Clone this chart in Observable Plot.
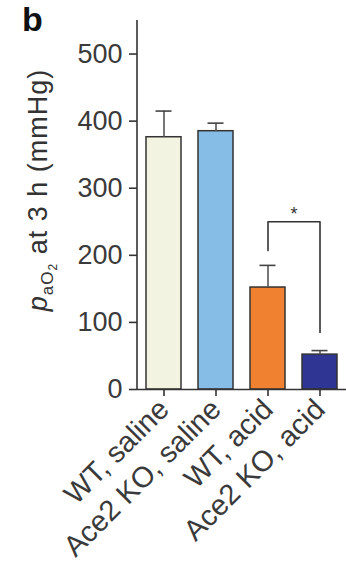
<!DOCTYPE html>
<html>
<head>
<meta charset="utf-8">
<script src="https://cdn.jsdelivr.net/npm/d3@7"></script>
<script src="https://cdn.jsdelivr.net/npm/@observablehq/plot@0.6"></script>
<style>
  html, body { margin: 0; padding: 0; background: #fff; }
  #chart { position: relative; width: 346px; height: 565px; }
  svg text { font-family: "Liberation Sans", Arial, sans-serif; }
</style>
</head>
<body>
<div id="chart"></div>
<script>
const categories = ["WT, saline", "Ace2 KO, saline", "WT, acid", "Ace2 KO, acid"];
const means = [376, 385, 152, 52];
const errors = [39, 12, 33, 6];
const colors = ["#F3F3E1", "#86BDE6", "#EF8131", "#2E3592"];
const yTicks = [0, 100, 200, 300, 400, 500];
const bracket = [
  {x: "WT, acid", y: 207},
  {x: "WT, acid", y: 250},
  {x: "Ace2 KO, acid", y: 250},
  {x: "Ace2 KO, acid", y: 85}
];
const starLabel = "*";
const panelLabel = "b";

const data = categories.map((c, i) => ({cat: c, mean: means[i], err: means[i] + errors[i], color: colors[i]}));

const plot = Plot.plot({
  width: 346,
  height: 565,
  marginLeft: 137,
  marginRight: 0,
  marginTop: 20,
  marginBottom: 176,
  style: {fontFamily: "'Liberation Sans', Arial, sans-serif", color: "#333", background: "#fff"},
  x: {domain: categories, paddingInner: 0.33, paddingOuter: 0.165, label: null, tickSize: 7, tickRotate: -45, tickPadding: 4},
  y: {domain: [0, 550], label: null, axis: null},
  marks: [
    Plot.barY(data, {x: "cat", y: "mean", fill: "color", stroke: "#333", strokeWidth: 1.5}),
    Plot.ruleX(data, {x: "cat", y1: "mean", y2: "err", stroke: "#555", strokeWidth: 1.6}),
    Plot.tickY(data, {x: "cat", y: "err", stroke: "#444", strokeWidth: 1.6, insetLeft: 9.5, insetRight: 9.5}),
    Plot.line(bracket, {x: "x", y: "y", stroke: "#333", strokeWidth: 1.6, curve: "linear"}),
    Plot.text([starLabel], {x: () => "WT, acid", y: () => 250, text: d => d, dx: 26, dy: -8, fontSize: 18, fill: "#333"}),
    Plot.ruleY([0], {stroke: "#333", strokeWidth: 1.6}),
    Plot.axisY(yTicks, {tickSize: 8, tickPadding: 7, fontSize: 27, stroke: "#333", strokeWidth: 1.6, color: "#3a3a3a", label: null}),
    Plot.axisX({tickSize: 7, tickRotate: -45, tickPadding: 8, fontSize: 29, stroke: "#333", strokeWidth: 1.6, fill: "#3a3a3a", label: null})
  ]
});

document.getElementById("chart").appendChild(plot);

const svg = d3.select(plot);
// y axis line
const yScale = plot.scale("y");
const x0 = 137;
svg.append("line")
  .attr("x1", x0).attr("x2", x0)
  .attr("y1", yScale.apply(550)).attr("y2", yScale.apply(0))
  .attr("stroke", "#333").attr("stroke-width", 1.6);

// y label with italic p and subscripts
const lab = svg.append("text")
  .attr("transform", `translate(47,190) rotate(-90)`)
  .attr("text-anchor", "middle")
  .attr("font-size", 27)
  .attr("letter-spacing", 1.0)
  .attr("fill", "#333");
lab.append("tspan").attr("font-style", "italic").text("p");
lab.append("tspan").attr("font-size", 17).attr("dy", 6).text("aO");
lab.append("tspan").attr("font-size", 12).attr("dy", 4).text("2");
lab.append("tspan").attr("dy", -10).text(" at 3 h (mmHg)");

// panel label
svg.append("text")
  .attr("x", 22).attr("y", 31)
  .attr("text-anchor", "start")
  .attr("font-size", 34).attr("font-weight", "bold")
  .attr("fill", "#111")
  .text(panelLabel);
</script>
</body>
</html>
